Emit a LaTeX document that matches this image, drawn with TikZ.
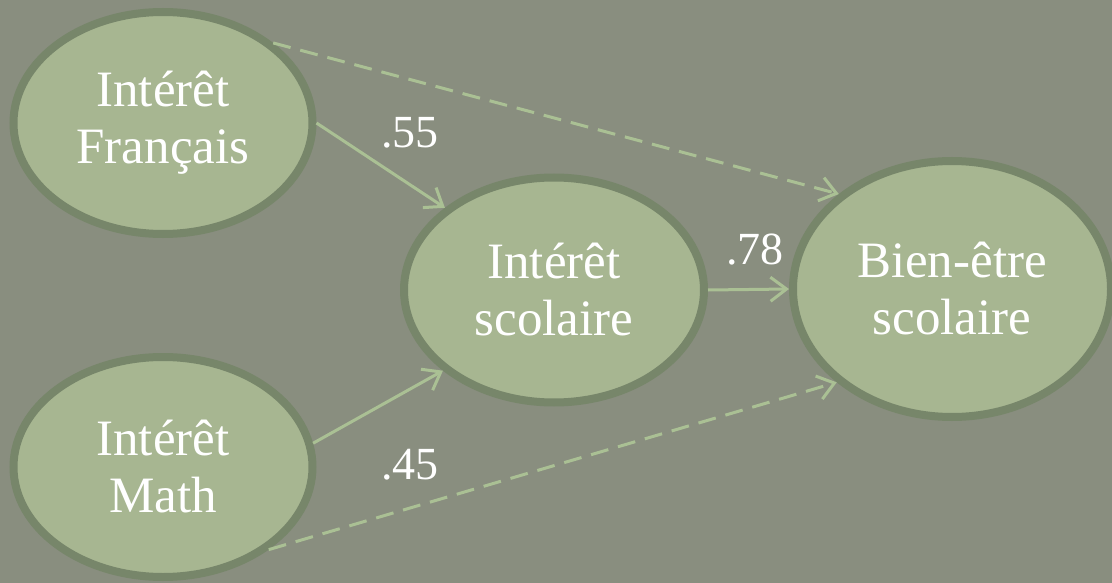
\documentclass[tikz,border=0pt]{standalone}
\usepackage{fontspec}
\setmainfont{Liberation Serif}
\usetikzlibrary{shapes.geometric,arrows.meta}
\definecolor{bgcol}{RGB}{137,142,127}
\definecolor{ellfill}{RGB}{167,182,145}
\definecolor{ellborder}{RGB}{119,134,106}
\definecolor{arrcol}{RGB}{170,192,148}
\tikzset{
  var/.style={ellipse, fill=ellfill, draw=ellborder, line width=8pt, inner sep=0pt,
    text=white, align=center, font=\fontsize{51}{57}\selectfont},
  path/.style={draw=arrcol, line width=3pt, -{Straight Barb[length=16pt,width=24pt,line width=3pt]}},
  dpath/.style={path, dash pattern=on 18pt off 10pt},
  coef/.style={text=white, font=\fontsize{46}{50}\selectfont, inner sep=0pt}
}
\begin{document}
\begin{tikzpicture}[x=1pt,y=-1pt]
\fill[bgcol] (0,0) rectangle (1112,583);
\useasboundingbox (0,0) rectangle (1112,583);
\node[var, minimum width=299pt, minimum height=222pt] (fr) at (163,123) {Intérêt\\Français};
\node[var, minimum width=299pt, minimum height=220pt] (ma) at (163,467) {Intérêt\\Math};
\node[var, minimum width=300pt, minimum height=225pt] (sc) at (554,290) {Intérêt\\scolaire};
\node[var, minimum width=318pt, minimum height=256pt] (be) at (952,289) {Bien-être\\scolaire};
\draw[path] (fr.east) -- (sc.143);
\draw[path] (ma.9) -- (sc.216);
\draw[path] (sc.east) -- (be.west);
\draw[dpath] (fr.36) -- (be.140);
\draw[dpath] (ma.322) -- (be.219);
\node[coef] (c55) at (410,133) {.55};
\node[coef] (c45) at (410,465) {.45};
\node[coef] (c78) at (755,250) {.78};
\end{tikzpicture}
\end{document}
